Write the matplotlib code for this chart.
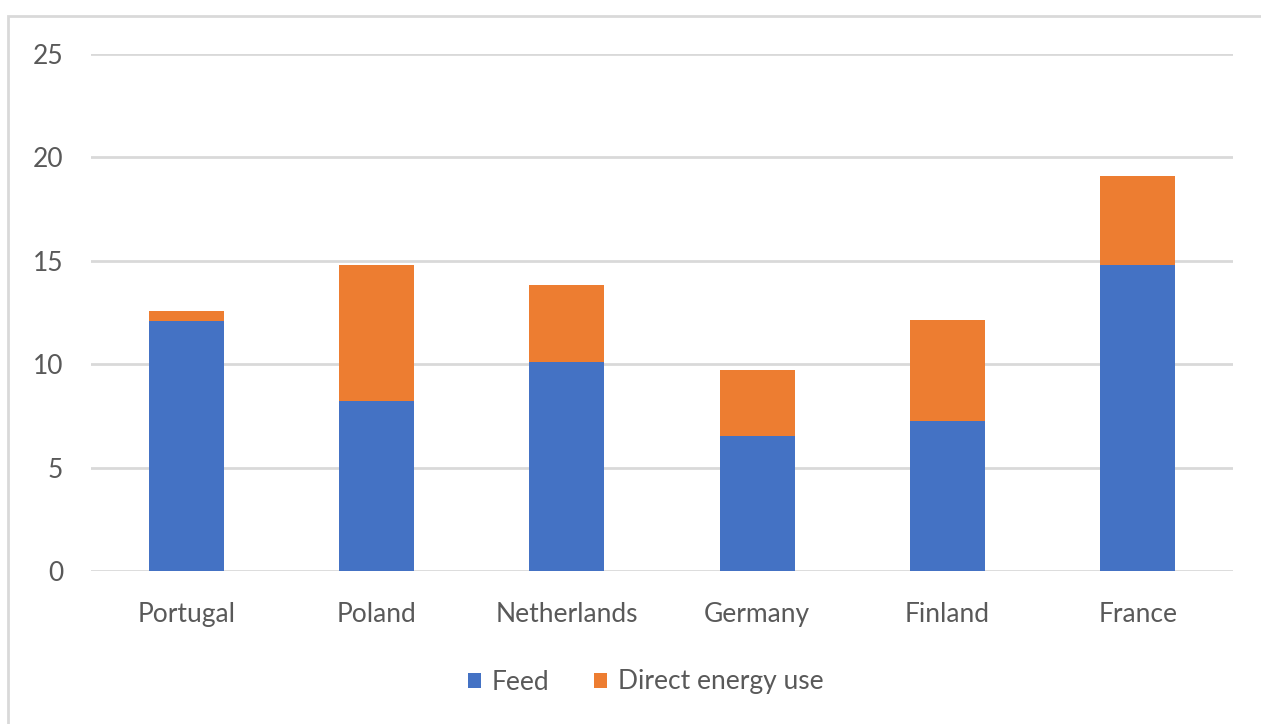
import matplotlib.pyplot as plt
from matplotlib.patches import Rectangle

countries = ["Portugal", "Poland", "Netherlands", "Germany", "Finland", "France"]
feed = [12.1, 8.2, 10.1, 6.55, 7.25, 14.8]
direct_energy = [0.45, 6.6, 3.75, 3.15, 4.9, 4.3]

blue = "#4472C4"
orange = "#ED7D31"
text_col = "#595959"
grid_col = "#d9d9d9"

plt.rcParams["font.family"] = ["Lato", "DejaVu Sans"]

fig = plt.figure(figsize=(12.61, 7.24), dpi=100)
ax = fig.add_axes([91 / 1261, 1 - 571 / 724, (1233 - 91) / 1261, (571 - 54) / 724])

x = range(len(countries))
ax.bar(x, feed, width=0.395, color=blue, label="Feed", zorder=3)
ax.bar(x, direct_energy, width=0.395, bottom=feed, color=orange,
       label="Direct energy use", zorder=3)

ax.set_xlim(-0.5, len(countries) - 0.5)
ax.set_ylim(0, 25)
ax.set_yticks([0, 5, 10, 15, 20, 25])
ax.set_xticks(list(x))
ax.set_xticklabels(countries)
ax.yaxis.grid(True, color=grid_col, linewidth=2, zorder=0)
for s in ax.spines.values():
    s.set_visible(False)
ax.tick_params(axis="both", length=0, labelsize=19, labelcolor=text_col)
ax.tick_params(axis="y", pad=20)
ax.tick_params(axis="x", pad=22)

# chart border
fig.patches.append(Rectangle((8 / 1261, -0.05), 1.1, 1 - 16 / 724 + 0.05,
                             transform=fig.transFigure, fill=False,
                             edgecolor=grid_col, linewidth=2))

fig.legend(loc="center", bbox_to_anchor=(0.512, 1 - 682 / 724), ncol=2,
           frameon=False, fontsize=19, labelcolor=text_col,
           handlelength=0.5, handleheight=0.5, handletextpad=0.4,
           columnspacing=1.7)

fig.savefig("out.png", dpi=100)
